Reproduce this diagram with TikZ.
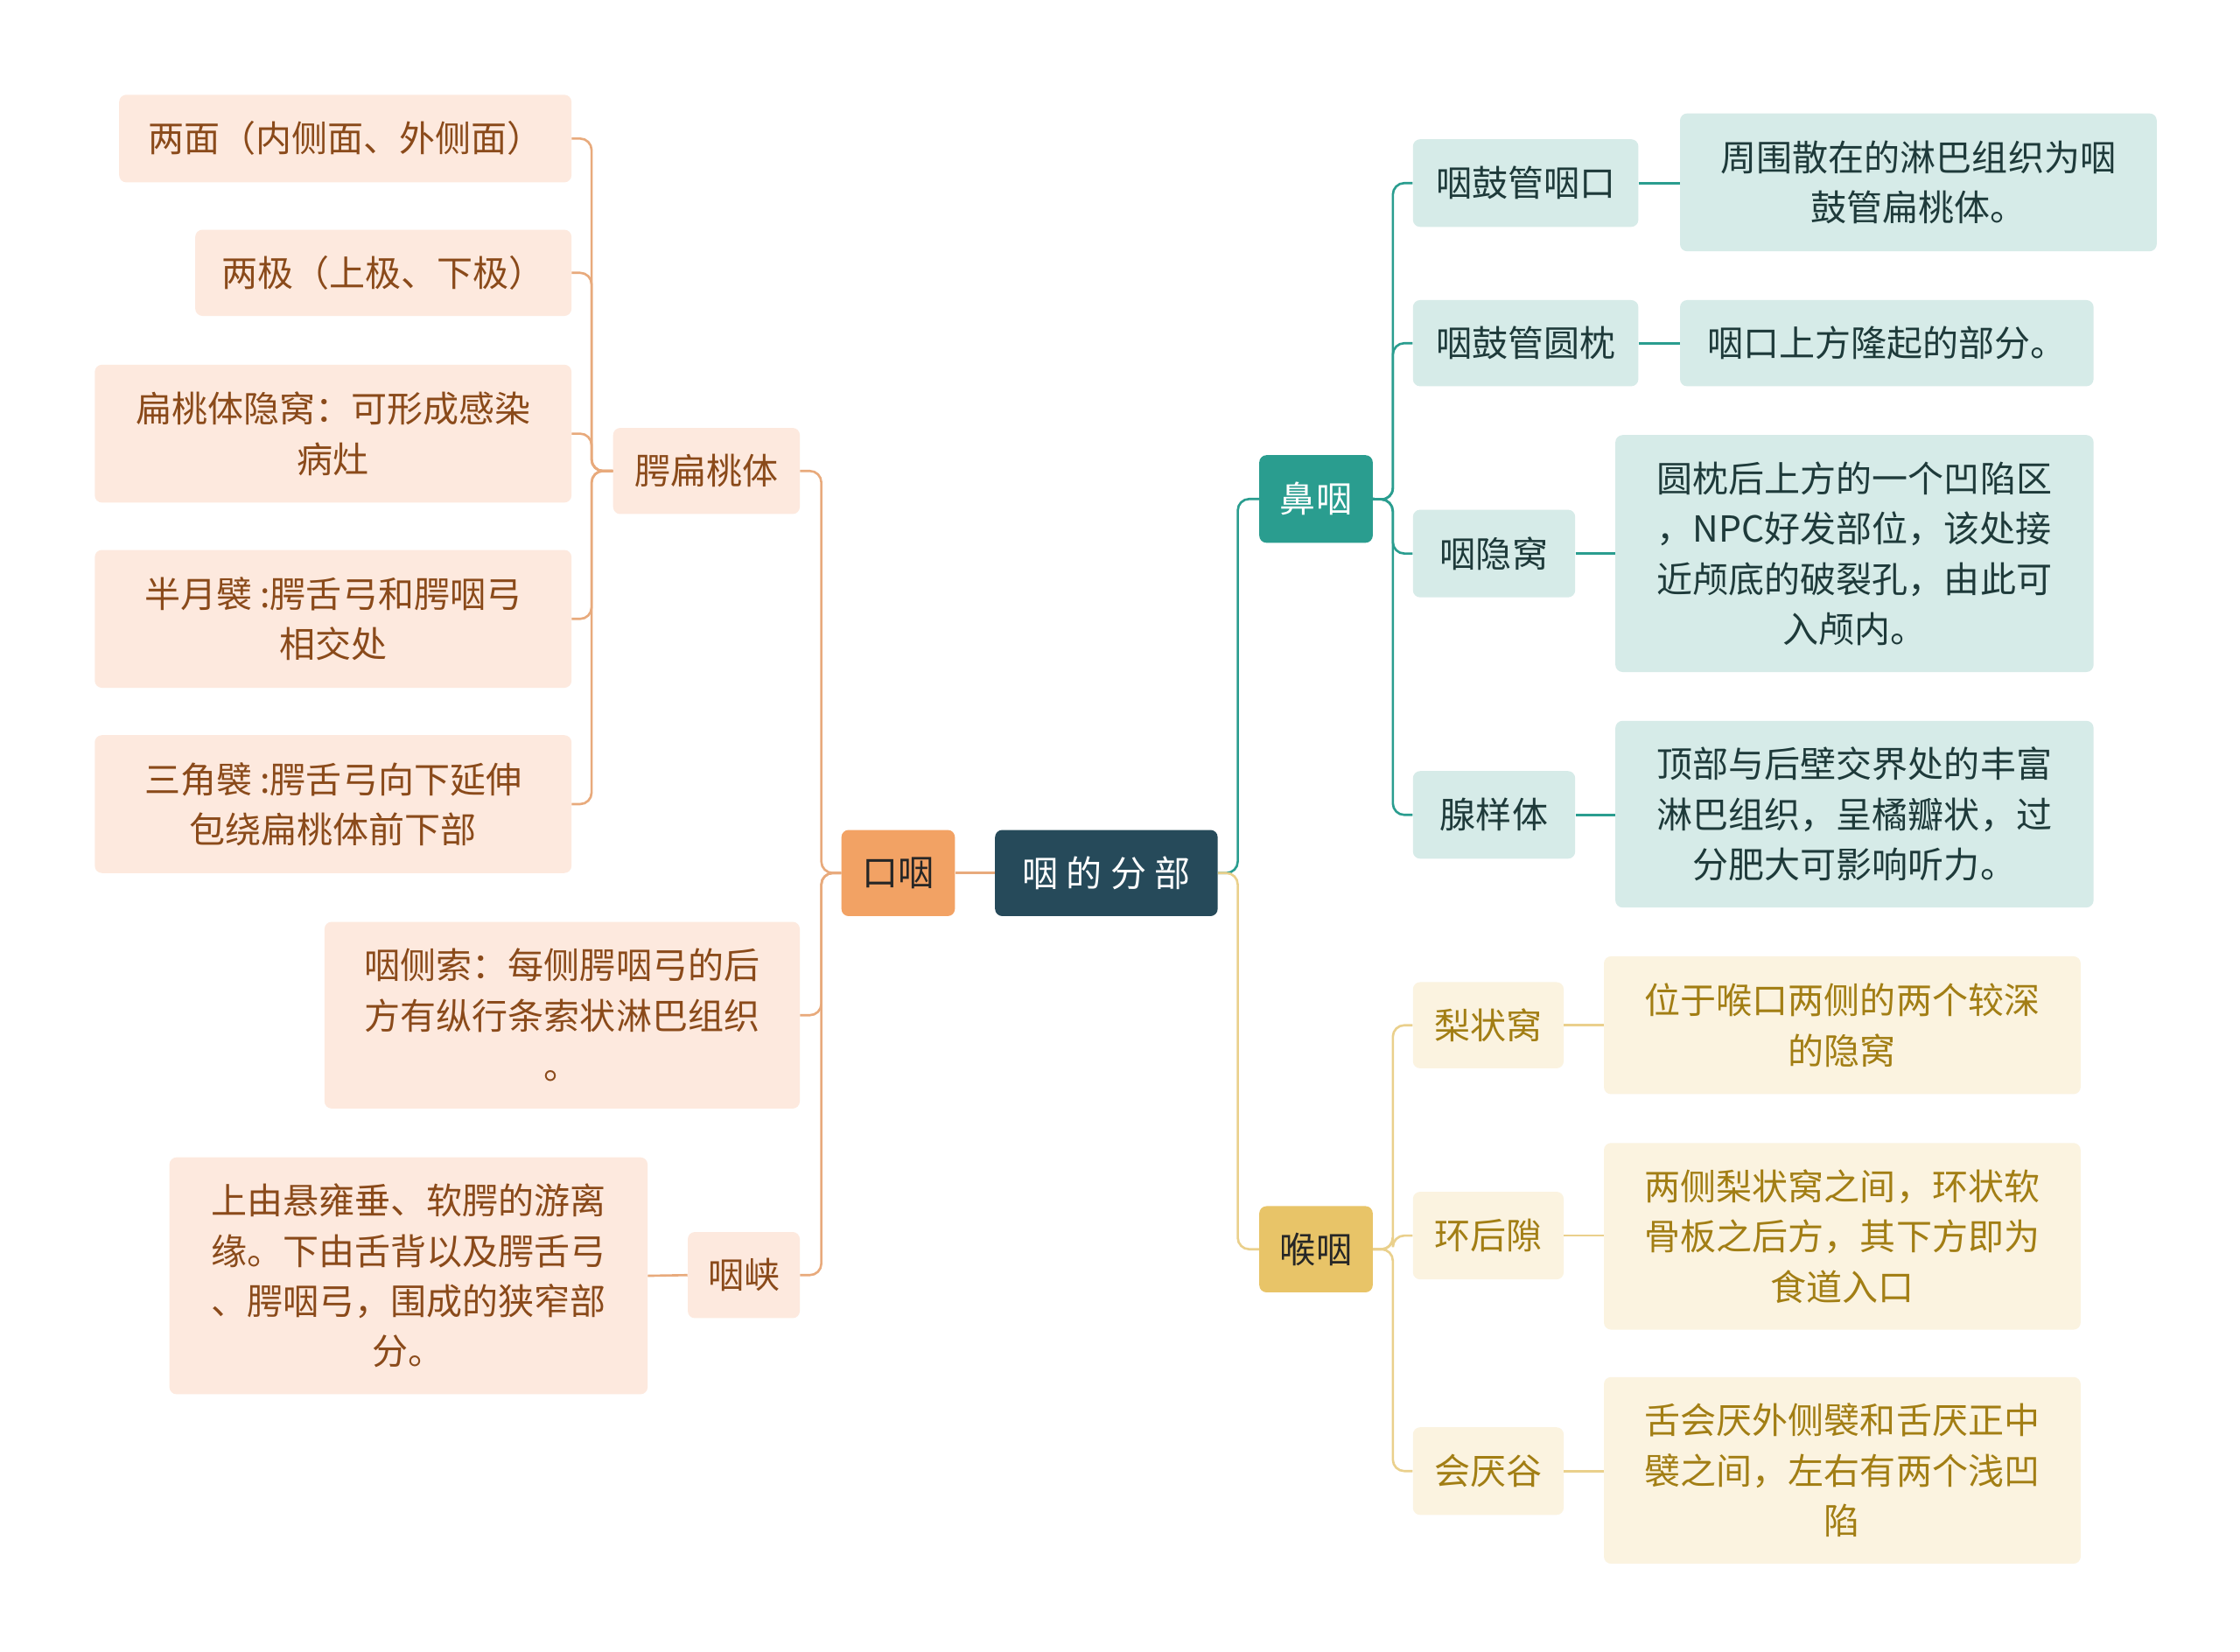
\documentclass[tikz,border=0pt]{standalone}
\usepackage{fontspec}
\setmainfont{Noto Sans CJK SC}
\definecolor{rootc}{HTML}{264A5A}
\definecolor{orc}{HTML}{F2A264}
\definecolor{orf}{HTML}{FDE9DE}
\definecolor{ort}{HTML}{8A4A1A}
\definecolor{orl}{HTML}{E8AA7C}
\definecolor{tec}{HTML}{2A9D8F}
\definecolor{tef}{HTML}{D6EBE8}
\definecolor{tet}{HTML}{1E3A3A}
\definecolor{yec}{HTML}{E8C468}
\definecolor{yef}{HTML}{FBF3E0}
\definecolor{yet}{HTML}{A27E14}
\definecolor{yel}{HTML}{EAD08C}
\begin{document}
\begin{tikzpicture}[x=1pt,y=-1pt,
 base/.style={rounded corners=5pt,align=center,inner sep=0pt,font=\fontsize{25}{35}\selectfont},
 oc/.style={base,fill=orf,text=ort},
 tc/.style={base,fill=tef,text=tet},
 yc/.style={base,fill=yef,text=yet},
 ol/.style={draw=orl,line width=1.6pt,rounded corners=8pt},
 tl/.style={draw=tec,line width=1.6pt,rounded corners=8pt},
 yl/.style={draw=yel,line width=1.6pt,rounded corners=8pt}]
\fill[white] (0,0) rectangle (1560,1150);
\newcommand\bx[7]{\node[#6,minimum width=#4-#2,minimum height=#5-#3] (#1) at ({(#2+#4)/2},{(#3+#5)/2}) {#7};}
\bx{root}{693}{578}{848}{638}{base,fill=rootc,text=white}{咽 的 分 部}
\bx{ky}{586}{578}{665}{638}{base,fill=orc,text=black!85}{口咽}
\bx{bt}{427}{298}{557}{358}{oc}{腭扁桃体}
\bx{yc}{226}{642}{557}{772}{oc}{咽侧索：每侧腭咽弓的后\\方有纵行条索状淋巴组织\\。}
\bx{yx}{479}{858}{557}{918}{oc}{咽峡}
\bx{l1}{83}{66}{398}{127}{oc}{两面（内侧面、外侧面）}
\bx{l2}{136}{160}{398}{220}{oc}{两极（上极、下极）}
\bx{l3}{66}{254}{398}{350}{oc}{扁桃体隐窝：可形成感染\\病灶}
\bx{l4}{66}{383}{398}{479}{oc}{半月襞 :腭舌弓和腭咽弓\\相交处}
\bx{l5}{66}{512}{398}{608}{oc}{三角襞 :腭舌弓向下延伸\\包绕扁桃体前下部}
\bx{yxd}{118}{806}{451}{971}{oc}{上由悬雍垂、软腭的游离\\缘。下由舌背以及腭舌弓\\、腭咽弓，围成的狭窄部\\分。}
\bx{by}{877}{317}{956}{378}{base,fill=tec,text=white}{鼻咽}
\bx{hy}{877}{840}{956}{900}{base,fill=yec,text=black!85}{喉咽}
\bx{r1}{984}{97}{1141}{158}{tc}{咽鼓管咽口}
\bx{r1d}{1170}{79}{1502}{175}{tc}{周围散在的淋巴组织为咽\\鼓管扁桃体。}
\bx{r2}{984}{209}{1141}{269}{tc}{咽鼓管圆枕}
\bx{r2d}{1170}{209}{1458}{269}{tc}{咽口上方隆起的部分。}
\bx{r3}{984}{355}{1097}{416}{tc}{咽隐窝}
\bx{r3d}{1125}{303}{1458}{468}{tc}{圆枕后上方的一个凹陷区\\，NPC好发部位，该处接\\近颅底的破裂孔，由此可\\入颅内。}
\bx{r4}{984}{537}{1097}{598}{tc}{腺样体}
\bx{r4d}{1125}{502}{1458}{632}{tc}{顶部与后壁交界处的丰富\\淋巴组织，呈橘瓣状，过\\分肥大可影响听力。}
\bx{h1}{984}{684}{1089}{744}{yc}{梨状窝}
\bx{h1d}{1117}{666}{1449}{762}{yc}{位于喉口两侧的两个较深\\的隐窝}
\bx{h2}{984}{830}{1089}{891}{yc}{环后隙}
\bx{h2d}{1117}{796}{1449}{926}{yc}{两侧梨状窝之间，环状软\\骨板之后方，其下方即为\\食道入口}
\bx{h3}{984}{994}{1089}{1055}{yc}{会厌谷}
\bx{h3d}{1117}{959}{1449}{1089}{yc}{舌会厌外侧襞和舌厌正中\\襞之间，左右有两个浅凹\\陷}
% connectors
\draw[ol,rounded corners=0] (root.west) -- (ky.east);
\foreach \c in {bt,yc,yx}{\draw[ol] (ky.west) -- (572,608) -- (572,0|-\c.east) -- (\c.east);}
\foreach \c in {l1,l2,l3,l4,l5}{\draw[ol] (bt.west) -- (412,328) -- (412,0|-\c.east) -- (\c.east);}
\draw[ol] (yx.west) -- (yxd.east);
\draw[tl] (root.east) -- (862,608) -- (862,0|-by.west) -- (by.west);
\draw[yl] (root.east) -- (862,608) -- (862,0|-hy.west) -- (hy.west);
\foreach \c in {r1,r2,r3,r4}{\draw[tl] (by.east) -- (970,348) -- (970,0|-\c.west) -- (\c.west);}
\foreach \c in {h1,h2,h3}{\draw[yl] (hy.east) -- (970,870) -- (970,0|-\c.west) -- (\c.west);}
\draw[tl] (r1.east) -- (r1d.west|-r1.east);
\draw[tl] (r2.east) -- (r2d.west);
\draw[tl] (r3.east) -- (r3d.west|-r3.east);
\draw[tl] (r4.east) -- (r4d.west|-r4.east);
\draw[yl] (h1.east) -- (h1d.west|-h1.east);
\draw[yl] (h2.east) -- (h2d.west|-h2.east);
\draw[yl] (h3.east) -- (h3d.west|-h3.east);
\end{tikzpicture}
\end{document}
